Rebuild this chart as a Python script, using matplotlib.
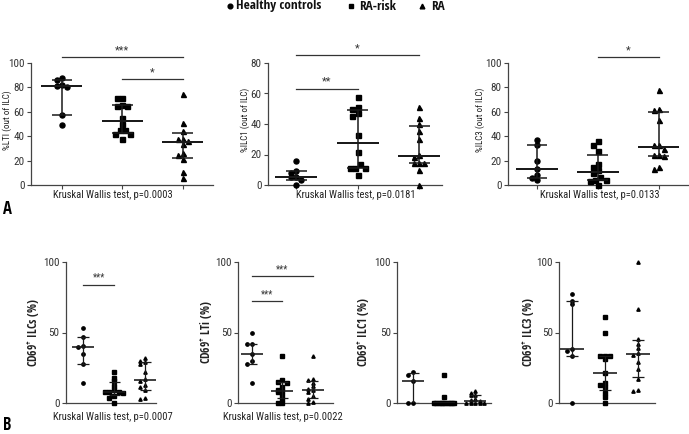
import numpy as np
import matplotlib
matplotlib.use('Agg')
import matplotlib.pyplot as plt
from matplotlib.lines import Line2D

plt.rcParams['font.family'] = ['Roboto Condensed', 'Liberation Sans', 'DejaVu Sans']
plt.rcParams['mathtext.fontset'] = 'custom'
plt.rcParams['mathtext.rm'] = 'Open Sans Condensed'
plt.rcParams['mathtext.bf'] = 'Open Sans Condensed'
BOLD = ['Open Sans Condensed', 'Liberation Sans', 'DejaVu Sans']

groups = ['Healthy controls', 'RA-risk', 'RA']
markers = ['o', 's', '^']

# ---- Panel A data (% of ILC) ----
lti_hc = [88, 86, 82, 81, 80, 57, 49]
lti_rarisk = [71, 71, 65.5, 65, 65, 55, 50, 45, 45, 42, 42, 38]
lti_ra = [75, 50.5, 44, 38, 38, 36, 34, 26, 25, 21.5, 10.7, 5.5]

ilc1_hc = [15.5, 9.5, 8, 5.5, 5, 3.5, 0]
ilc1_rarisk = [57.5, 51.3, 50, 47, 45, 33, 21.7, 13.8, 11.4, 11, 11, 6.6]
ilc1_ra = [51, 44, 40, 35.5, 30, 20, 18.5, 14.5, 14.5, 14.5, 10, 0]

ilc3_hc = [36.7, 32.6, 19.7, 13.4, 8, 6, 4]
ilc3_rarisk = [36, 33, 27.5, 17.5, 15, 12, 9.5, 6.5, 4, 4, 3.5, 0]
ilc3_ra = [77.5, 62.5, 61.5, 53.5, 32.5, 32.5, 29.5, 24.5, 24.5, 24, 14.5, 13]

# ---- Panel B data (CD69+ %) ----
cd69_ilc_hc = [53.5, 47, 40.5, 40, 35, 28, 14.5]
cd69_ilc_rarisk = [22, 18, 15.5, 12, 9, 8, 7.5, 7.5, 7, 5, 3.5, 0]
cd69_ilc_ra = [32, 30, 29, 28, 22, 17, 15.5, 13, 11, 9, 3.5, 2.5]

cd69_lti_hc = [50, 42, 41.5, 35, 30, 28, 14.5]
cd69_lti_rarisk = [33, 16, 15, 14, 11, 9, 8.5, 8, 6, 3, 0, 0]
cd69_lti_ra = [33, 17, 16, 14.5, 12, 10, 9, 8, 5, 3, 1, 0]

cd69_ilc1_hc = [22, 20, 15.5, 0, 0]
cd69_ilc1_rarisk = [20, 4, 0, 0, 0, 0, 0, 0, 0, 0, 0, 0]
cd69_ilc1_ra = [8.5, 7, 6, 5.5, 3, 2, 1.5, 0, 0, 0, 0, 0]

cd69_ilc3_hc = [77, 72.5, 70, 38.5, 37, 33, 0]
cd69_ilc3_rarisk = [61, 50, 33.5, 33, 33, 31, 21.5, 14, 12.5, 11, 7, 4, 0]
cd69_ilc3_ra = [100, 67, 45.5, 41.5, 39, 35.5, 34, 29, 24, 17, 9, 8.5]

ylabels_a = ['%LTI (out of ILC)', '%ILC1 (out of ILC)', '%ILC3 (out of ILC)']
ylabels_b = [r'CD69$^{+}$ ILCs (%)', r'CD69$^{+}$ LTi (%)',
             r'CD69$^{+}$ ILC1 (%)', r'CD69$^{+}$ ILC3 (%)']
tests_a = ['Kruskal Wallis test, p=0.0003', 'Kruskal Wallis test, p=0.0181',
           'Kruskal Wallis test, p=0.0133']
tests_b = ['Kruskal Wallis test, p=0.0007', 'Kruskal Wallis test, p=0.0022', None, None]

# significance bars: (group i, group j, height, label)
sig_a = [[(0, 2, 105, '***'), (1, 2, 86.7, '*')],
         [(0, 2, 85, '*'), (0, 1, 63, '**')],
         [(1, 2, 105, '*')]]
sig_b = [[(0, 1, 84, '***')],
         [(0, 2, 90, '***'), (0, 1, 72.3, '***')],
         [], []]

data_a = [(lti_hc, lti_rarisk, lti_ra), (ilc1_hc, ilc1_rarisk, ilc1_ra),
          (ilc3_hc, ilc3_rarisk, ilc3_ra)]
data_b = [(cd69_ilc_hc, cd69_ilc_rarisk, cd69_ilc_ra),
          (cd69_lti_hc, cd69_lti_rarisk, cd69_lti_ra),
          (cd69_ilc1_hc, cd69_ilc1_rarisk, cd69_ilc1_ra),
          (cd69_ilc3_hc, cd69_ilc3_rarisk, cd69_ilc3_ra)]

W, H = 689, 434
fig = plt.figure(figsize=(W / 100, H / 100), dpi=100)


def add_ax(l, r, t, b):
    return fig.add_axes([l / W, 1 - b / H, (r - l) / W, (b - t) / H])


def spread(vals, tol, step, maxw):
    vals = np.asarray(vals, float)
    order = np.argsort(-vals, kind='stable')
    offs = np.zeros(len(vals))
    i = 0
    while i < len(order):
        j = i
        while j + 1 < len(order) and vals[order[i]] - vals[order[j + 1]] < tol:
            j += 1
        idx = order[i:j + 1]
        k = len(idx)
        st = step if k < 2 else min(step, maxw / (k - 1))
        pat = []
        for n in range(k):
            pat.append(((n + 1) // 2) * (-1 if n % 2 == 1 else 1))
        pat = np.array(pat, float)
        if k > 2:
            pat -= (pat.max() + pat.min()) / 2
        offs[idx] = pat * st
        i = j + 1
    return offs


def draw_panel(ax, data, ylim, yticks, ms, tol, step, maxw, medw, qw, lw, row):
    for gi, vals in enumerate(data):
        v = np.asarray(vals, float)
        offs = spread(v, tol, step, maxw)
        ax.plot(gi + offs, v, ls='', marker=markers[gi], ms=ms, color='black',
                mec='black', clip_on=False, zorder=3)
        q1, med, q3 = np.percentile(v, [25, 50, 75], method='weibull')
        ax.vlines(gi, q1, q3, color='#1a1a1a', lw=lw, zorder=4)
        ax.hlines(med, gi - medw, gi + medw, color='#1a1a1a', lw=lw * 1.3, zorder=4)
        ax.hlines([q1, q3], gi - qw, gi + qw, color='#1a1a1a', lw=lw, zorder=4)
    ax.set_ylim(*ylim)
    ax.set_yticks(yticks)
    for s in ['top', 'right']:
        ax.spines[s].set_visible(False)
    for s in ['left', 'bottom']:
        ax.spines[s].set_color('#444')
        ax.spines[s].set_linewidth(0.9)
    ax.tick_params(axis='y', labelsize=8, colors='#444', labelcolor='#333', length=3,
                   width=0.8, pad=1.5)
    if row == 'A':
        ax.set_xticks([0, 1, 2])
        ax.set_xticklabels([])
        ax.tick_params(axis='x', length=3, width=0.8, colors='#444')
    else:
        ax.set_xticks([])


def draw_sig(ax, bars, fs):
    for (i, j, h, lab) in bars:
        ax.plot([i, j], [h, h], color='#333', lw=0.9, clip_on=False)
        ax.text((i + j) / 2, h + 1.5, lab, ha='center', va='bottom', fontsize=fs,
                color='#333', clip_on=False)


# ---- Row A layout (pixels) ----
layout_a = [(31, 213, (-0.51, 2.50), 113, 7),
            (267.7, 442, (-0.46, 2.37), 356, 245),
            (507.7, 688, (-0.48, 2.48), 600, 480)]
ylims_a = [(0, 100), (0, 80), (0, 100)]
yticks_a = [np.arange(0, 101, 20), np.arange(0, 81, 20), np.arange(0, 101, 20)]
topA, botA = 63, 185
for k, (l, r, xl, tx, lx) in enumerate(layout_a):
    ax = add_ax(l, r, topA, botA)
    ax.set_xlim(*xl)
    ppu = (botA - topA) / (ylims_a[k][1] - ylims_a[k][0])
    draw_panel(ax, data_a[k], ylims_a[k], yticks_a[k], ms=3.6, tol=4.5 / ppu,
               step=0.085, maxw=0.5, medw=0.34, qw=0.17, lw=1.1, row='A')
    draw_sig(ax, sig_a[k], 8)
    fig.text(tx / W, 1 - 195 / H, tests_a[k], ha='center', va='center', fontsize=7.6,
             color='#222')
    fig.text(lx / W, 1 - 120 / H, ylabels_a[k], rotation=90, ha='center', va='center',
             fontsize=6.5, color='#222')

# ---- Row B layout (pixels) ----
layout_b = [(65.7, 156, (-0.56, 2.35), 112.5, 34),
            (238, 333, (-0.46, 2.66), 283, 207),
            (397, 490.7, (-0.52, 2.50), None, 364),
            (559.3, 654.7, (-0.38, 2.50), None, 529)]
topB, botB = 262, 403
for k, (l, r, xl, tx, lx) in enumerate(layout_b):
    ax = add_ax(l, r, topB, botB)
    ax.set_xlim(*xl)
    ppu = (botB - topB) / 100
    draw_panel(ax, data_b[k], (0, 100), [0, 50, 100], ms=2.4, tol=3.5 / ppu,
               step=0.15, maxw=0.65, medw=0.36, qw=0.18, lw=0.9, row='B')
    draw_sig(ax, sig_b[k], 7)
    if tests_b[k]:
        fig.text(tx / W, 1 - 417 / H, tests_b[k], ha='center', va='center', fontsize=7.6,
                 color='#222')
    fig.text(lx / W, 1 - 332 / H, ylabels_b[k], rotation=90, ha='center', va='center',
             fontsize=8.5, family=BOLD, fontweight='bold', color='#222')

# ---- Legend ----
leg_y = 1 - 6 / H
for mx, txp, mk, lab in [(230, 236, 'o', groups[0]), (351, 359, 's', groups[1]),
                         (422, 431, '^', groups[2])]:
    fig.add_artist(Line2D([mx / W], [leg_y], marker=mk, ms=3.4, color='black',
                          transform=fig.transFigure))
    fig.text(txp / W, leg_y, lab, ha='left', va='center', fontsize=9.5, family=BOLD,
             fontweight='bold', color='#111')

fig.text(3 / W, 1 - 209 / H, 'A', fontsize=12, family=BOLD, fontweight='bold',
         va='center', ha='left')
fig.text(3 / W, 1 - 425 / H, 'B', fontsize=12, family=BOLD, fontweight='bold',
         va='center', ha='left')

fig.savefig('out.png', dpi=100)
